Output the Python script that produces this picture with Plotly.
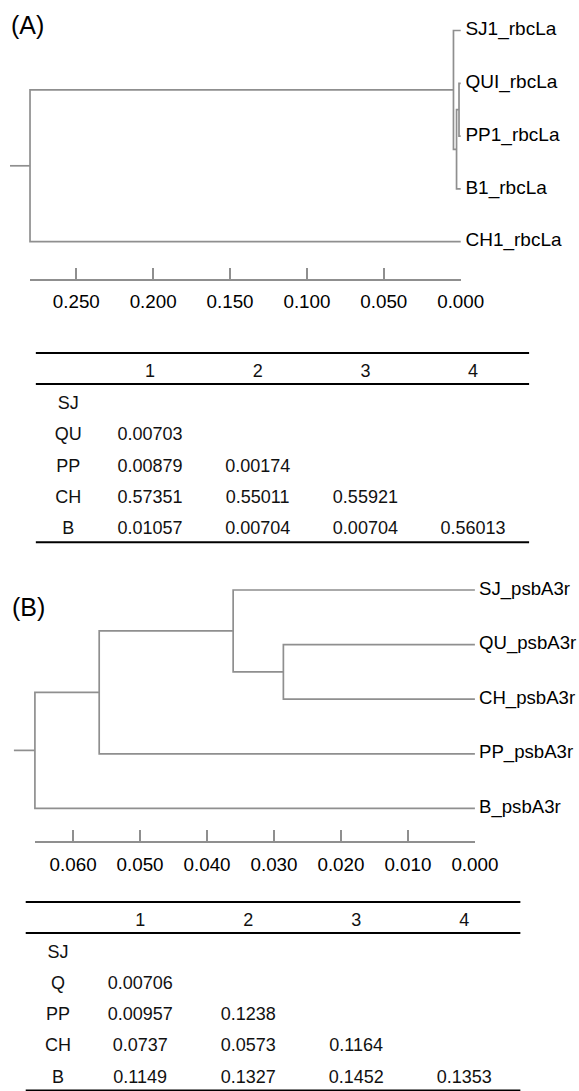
import plotly.graph_objects as go

W, H = 579, 1091

# ---------------- data ----------------
# Panel (A): UPGMA tree of rbcLa sequences
leaves_A = ["SJ1_rbcLa", "QUI_rbcLa", "PP1_rbcLa", "B1_rbcLa", "CH1_rbcLa"]
nodes_A = ["nA1", "nA2", "nA3", "rootA"]
children_A = [("QUI_rbcLa", "PP1_rbcLa"), ("nA1", "B1_rbcLa"),
              ("SJ1_rbcLa", "nA2"), ("nA3", "CH1_rbcLa")]
heights_A = [0.0011, 0.0027, 0.0047, 0.2801]
ticks_A = [0.250, 0.200, 0.150, 0.100, 0.050, 0.000]

# Panel (B): UPGMA tree of psbA3r sequences
leaves_B = ["SJ_psbA3r", "QU_psbA3r", "CH_psbA3r", "PP_psbA3r", "B_psbA3r"]
nodes_B = ["nB1", "nB2", "nB3", "rootB"]
children_B = [("QU_psbA3r", "CH_psbA3r"), ("SJ_psbA3r", "nB1"),
              ("nB2", "PP_psbA3r"), ("nB3", "B_psbA3r")]
heights_B = [0.0286, 0.0361, 0.0561, 0.0657]
ticks_B = [0.060, 0.050, 0.040, 0.030, 0.020, 0.010, 0.000]

# Pairwise distance tables
table_cols = ["1", "2", "3", "4"]
rows_A = ["SJ", "QU", "PP", "CH", "B"]
dist_A = [[], [0.00703], [0.00879, 0.00174], [0.57351, 0.55011, 0.55921],
          [0.01057, 0.00704, 0.00704, 0.56013]]
rows_B = ["SJ", "Q", "PP", "CH", "B"]
dist_B = [[], [0.00706], [0.00957, 0.1238], [0.0737, 0.0573, 0.1164],
          [0.1149, 0.1327, 0.1452, 0.1353]]

# ---------------- layout geometry (pixels) ----------------
FONT = "Arial, Liberation Sans, sans-serif"
LINE_C = "#8f8f8f"
LINE_W = 1.7
TREE_A = dict(x0=460.7, pxu=1537.6, y0=30.5, dy=52.8, axis_y=279.5, stub=20,
              standoff=5, gap=6, leaf_font=19)
TREE_B = dict(x0=474.9, pxu=6697.0, y0=590.0, dy=54.6, axis_y=841.5, stub=21,
              standoff=6, gap=5, leaf_font=18.6)
TABLE_A = dict(cx=150.0, cs=107.7, ry=372.7, rs=31.45)
TABLE_B = dict(cx=140.2, cs=108.0, ry=921.7, rs=31.3)
ROWLAB = 0.24          # column position of row labels (table units)
RULES_Y = [-0.63, 0.36, 5.39]
RULES_X = [-0.06, 4.52]


def xr(x0, pxu):
    return [x0 / pxu, (x0 - W) / pxu]


def yr(y0, dy):
    return [(H - y0) / dy, -y0 / dy]


def tree_lines(leaves, nodes, children, heights, stub):
    pos = {name: (0.0, i) for i, name in enumerate(leaves)}
    xs, ys = [], []
    for name, (c1, c2), h in zip(nodes, children, heights):
        (x1, y1), (x2, y2) = pos[c1], pos[c2]
        xs += [x1, h, h, x2, None]
        ys += [y1, y1, y2, y2, None]
        pos[name] = (h, (y1 + y2) / 2)
    rx, ry = pos[nodes[-1]]
    xs += [rx + stub, rx, None]
    ys += [ry, ry, None]
    return xs, ys


fig = go.Figure()


def add_tree(leaves, nodes, children, heights, geo, xa, ya, scale_xa, ticks):
    stub = geo["stub"] / geo["pxu"]
    xs, ys = tree_lines(leaves, nodes, children, heights, stub)
    fig.add_trace(go.Scatter(x=xs, y=ys, mode="lines", xaxis=xa, yaxis=ya,
                             line=dict(color=LINE_C, width=LINE_W),
                             hoverinfo="skip", showlegend=False))
    fig.add_trace(go.Scatter(x=[0.0] * len(leaves), y=list(range(len(leaves))),
                             mode="markers+text", text=leaves,
                             textposition="middle right",
                             marker=dict(size=geo["gap"], opacity=0),
                             textfont=dict(family=FONT, size=geo["leaf_font"],
                                           color="black"),
                             xaxis=xa, yaxis=ya, cliponaxis=False,
                             hoverinfo="skip", showlegend=False))
    # invisible carrier for the scale-bar axis
    fig.add_trace(go.Scatter(x=ticks, y=[-1000] * len(ticks), mode="markers",
                             marker=dict(opacity=0), xaxis=scale_xa, yaxis=ya,
                             hoverinfo="skip", showlegend=False))


add_tree(leaves_A, nodes_A, children_A, heights_A, TREE_A, "x", "y", "x3", ticks_A)
add_tree(leaves_B, nodes_B, children_B, heights_B, TREE_B, "x2", "y2", "x4", ticks_B)


def add_table(rows, dist, xa, ya):
    fig.add_trace(go.Scatter(x=[1, 2, 3, 4], y=[0] * 4, text=table_cols, mode="text",
                             textposition="middle center", cliponaxis=False,
                             textfont=dict(family=FONT, size=18, color="#111"),
                             xaxis=xa, yaxis=ya, hoverinfo="skip", showlegend=False))
    fig.add_trace(go.Scatter(x=[ROWLAB] * len(rows), y=list(range(1, len(rows) + 1)),
                             text=rows, mode="text", textposition="middle center",
                             cliponaxis=False,
                             textfont=dict(family=FONT, size=18, color="#111"),
                             xaxis=xa, yaxis=ya, hoverinfo="skip", showlegend=False))
    vx, vy, vt = [], [], []
    for i, row in enumerate(dist):
        for j, v in enumerate(row):
            vx.append(j + 1)
            vy.append(i + 1)
            vt.append(str(v))
    fig.add_trace(go.Scatter(x=vx, y=vy, text=vt, mode="text",
                             textposition="middle center", cliponaxis=False,
                             textfont=dict(family=FONT, size=18, color="#111"),
                             xaxis=xa, yaxis=ya, hoverinfo="skip", showlegend=False))
    for ry in RULES_Y:
        fig.add_shape(type="line", xref=xa, yref=ya, x0=RULES_X[0], x1=RULES_X[1],
                      y0=ry, y1=ry, line=dict(color="black", width=2))


add_table(rows_A, dist_A, "x5", "y5")
add_table(rows_B, dist_B, "x6", "y6")

hidden = dict(visible=False, showgrid=False, zeroline=False, domain=[0, 1],
              automargin=False, fixedrange=True)


def scale_axis(geo, root_h, ticks):
    left = (geo["x0"] - geo["pxu"] * root_h) / W
    return dict(domain=[left, geo["x0"] / W], range=[root_h, 0], anchor="free",
                position=1 - geo["axis_y"] / H, showline=True, linecolor=LINE_C,
                linewidth=1.5, ticks="inside", ticklen=11, tickwidth=1.5,
                tickcolor=LINE_C, tickvals=ticks, automargin=False, fixedrange=True,
                ticklabelstandoff=geo["standoff"],
                ticktext=["%.3f" % t for t in ticks], showgrid=False, zeroline=False,
                tickfont=dict(family=FONT, size=18.8, color="black"))


def tcol_range(t):
    return [1 - t["cx"] / t["cs"], 1 + (W - t["cx"]) / t["cs"]]


def trow_range(t):
    return [(H - t["ry"]) / t["rs"], -t["ry"] / t["rs"]]


fig.update_layout(
    template="none",
    width=W, height=H, margin=dict(l=0, r=0, t=0, b=0, pad=0, autoexpand=False),
    paper_bgcolor="white", plot_bgcolor="rgba(0,0,0,0)", showlegend=False,
    xaxis=dict(hidden, range=xr(TREE_A["x0"], TREE_A["pxu"]), anchor="y"),
    yaxis=dict(hidden, range=yr(TREE_A["y0"], TREE_A["dy"]), anchor="x"),
    xaxis2=dict(hidden, range=xr(TREE_B["x0"], TREE_B["pxu"]), anchor="y2"),
    yaxis2=dict(hidden, range=yr(TREE_B["y0"], TREE_B["dy"]), anchor="x2"),
    xaxis3=scale_axis(TREE_A, heights_A[-1], ticks_A),
    xaxis4=scale_axis(TREE_B, heights_B[-1], ticks_B),
    xaxis5=dict(hidden, range=tcol_range(TABLE_A), anchor="y5"),
    yaxis5=dict(hidden, range=trow_range(TABLE_A), anchor="x5"),
    xaxis6=dict(hidden, range=tcol_range(TABLE_B), anchor="y6"),
    yaxis6=dict(hidden, range=trow_range(TABLE_B), anchor="x6"),
    annotations=[
        dict(text="(A)", x=9 / W, y=1 - 25 / H, xref="paper", yref="paper",
             xanchor="left", yanchor="middle", showarrow=False,
             font=dict(family=FONT, size=25, color="black")),
        dict(text="(B)", x=10 / W, y=1 - 607 / H, xref="paper", yref="paper",
             xanchor="left", yanchor="middle", showarrow=False,
             font=dict(family=FONT, size=25, color="black")),
    ],
)

fig.write_html(
    "out.html",
    config={"displayModeBar": False, "responsive": False},
    post_script="document.body.style.margin='0';document.body.style.padding='0';"
                "document.body.style.overflow='hidden';",
)
